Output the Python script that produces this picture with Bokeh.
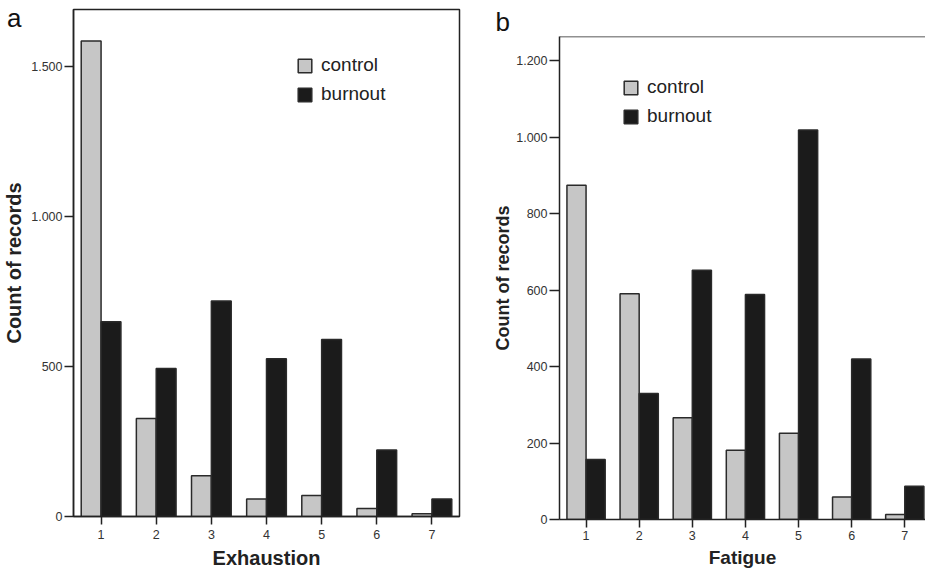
from bokeh.plotting import figure
from bokeh.layouts import row
from bokeh.models import (ColumnDataSource, FixedTicker, Legend, LegendItem, Span, Range1d, Title, Div)
from bokeh.transform import dodge
from bokeh.embed import file_html
from bokeh.resources import INLINE

# ---------------- data ----------------
levels = [1, 2, 3, 4, 5, 6, 7]
level_labels = ["1", "2", "3", "4", "5", "6", "7"]

exhaustion_control = [1585, 327, 136, 58, 70, 27, 9]
exhaustion_burnout = [649, 493, 718, 526, 590, 222, 58]

fatigue_control = [875, 591, 266, 181, 226, 59, 13]
fatigue_burnout = [157, 330, 652, 589, 1019, 420, 87]

exhaustion_yticks = [0, 500, 1000, 1500]
exhaustion_ytick_labels = ["0", "500", "1.000", "1.500"]
fatigue_yticks = [0, 200, 400, 600, 800, 1000, 1200]
fatigue_ytick_labels = ["0", "200", "400", "600", "800", "1.000", "1.200"]

series_names = ["control", "burnout"]

# ---------------- style ----------------
FONT = "Liberation Sans"
INK = "#222222"
CONTROL_FILL = "#c6c6c6"
BURNOUT_FILL = "#1b1b1b"
BAR_W = 0.36


def style_axes(p, yticks, ylabels, xstandoff, xlabel, xlabel_size, xlabel_standoff,
               ylabel_size, ylabel_standoff, ytick_out):
    p.xgrid.visible = False
    p.ygrid.visible = False
    for ax in (p.xaxis[0], p.yaxis[0]):
        ax.axis_line_color = INK
        ax.axis_line_width = 1.5
        ax.major_tick_line_color = INK
        ax.major_tick_line_width = 1.5
        ax.major_tick_in = 0
        ax.minor_tick_line_color = None
        ax.major_label_text_font = FONT
        ax.major_label_text_font_size = "12.5px"
        ax.major_label_text_color = "#333333"
        ax.axis_label_text_font = FONT
        ax.axis_label_text_font_style = "bold"
        ax.axis_label_text_color = INK
    p.xaxis[0].ticker = FixedTicker(ticks=levels)
    p.xaxis[0].major_label_overrides = {lv: lb for lv, lb in zip(levels, level_labels)}
    p.xaxis[0].major_tick_out = 8
    p.xaxis[0].major_label_standoff = xstandoff
    p.xaxis[0].axis_label = xlabel
    p.xaxis[0].axis_label_text_font_size = xlabel_size
    p.xaxis[0].axis_label_standoff = xlabel_standoff
    p.yaxis[0].ticker = FixedTicker(ticks=yticks)
    p.yaxis[0].major_label_overrides = {t: l for t, l in zip(yticks, ylabels)}
    p.yaxis[0].major_tick_out = ytick_out
    p.yaxis[0].major_label_standoff = 2
    p.yaxis[0].axis_label = "Count of records"
    p.yaxis[0].axis_label_text_font_size = ylabel_size
    p.yaxis[0].axis_label_standoff = ylabel_standoff


def add_bars(p, control, burnout):
    src = ColumnDataSource(dict(x=levels, control=control, burnout=burnout))
    r1 = p.vbar(x=dodge("x", -BAR_W / 2), top="control", width=BAR_W, source=src,
                fill_color=CONTROL_FILL, line_color="#2a2a2a", line_width=1.5)
    r2 = p.vbar(x=dodge("x", BAR_W / 2), top="burnout", width=BAR_W, source=src,
                fill_color=BURNOUT_FILL, line_color="#2a2a2a", line_width=1.5)
    return r1, r2


def add_legend(p, r1, r2, loc):
    leg = Legend(items=[LegendItem(label=series_names[0], renderers=[r1]),
                        LegendItem(label=series_names[1], renderers=[r2])],
                 location=loc)
    leg.background_fill_alpha = 0
    leg.border_line_color = None
    leg.padding = 0
    leg.margin = 0
    leg.spacing = 7
    leg.glyph_width = 17
    leg.glyph_height = 17
    leg.label_height = 20
    leg.label_standoff = 8
    leg.label_text_font = FONT
    leg.label_text_font_size = "19px"
    leg.label_text_color = INK
    p.add_layout(leg)


# ---------------- panel a ----------------
pa = figure(width=470, height=572, output_backend="svg", toolbar_location=None,
            x_range=Range1d(0.5, 7.5), y_range=Range1d(0, 1690),
            min_border_left=73, min_border_right=11, min_border_top=9, min_border_bottom=56)
try:
    pa.frame_align = False
except Exception:
    pass
pa.outline_line_color = INK
pa.outline_line_width = 1.5
style_axes(pa, exhaustion_yticks, exhaustion_ytick_labels, 5, "Exhaustion", "20px", 5,
           "20px", 3, 9)
ra1, ra2 = add_bars(pa, exhaustion_control, exhaustion_burnout)
add_legend(pa, ra1, ra2, (223, 411))

# ---------------- panel b ----------------
pb = figure(width=455, height=572, output_backend="svg", toolbar_location=None,
            x_range=Range1d(0.5, 7.39), y_range=Range1d(0, 1264),
            min_border_left=89, min_border_right=0, min_border_top=36, min_border_bottom=53)
try:
    pb.frame_align = False
except Exception:
    pass
pb.outline_line_color = None
style_axes(pb, fatigue_yticks, fatigue_ytick_labels, 3, "Fatigue", "19px", 4,
           "18px", 0, 10)
rb1, rb2 = add_bars(pb, fatigue_control, fatigue_burnout)
pb.add_layout(Span(location=1264, dimension="width", line_color=INK, line_width=1.5))
add_legend(pb, rb1, rb2, (63, 392))
tb = Title(text="b", align="left", offset=-64, standoff=0, text_font=FONT,
           text_font_size="26px", text_font_style="normal", text_color="#111111")
pb.add_layout(tb, "above")

label_a = Div(text="a", styles={"position": "absolute", "left": "2px", "top": "0px",
                                "z-index": "100", "font-family": "Liberation Sans",
                                "font-size": "26px", "color": "#111111",
                                "line-height": "26px"})

layout = row(label_a, pa, pb, spacing=0)
open("out.html", "w").write(file_html(layout, INLINE))
